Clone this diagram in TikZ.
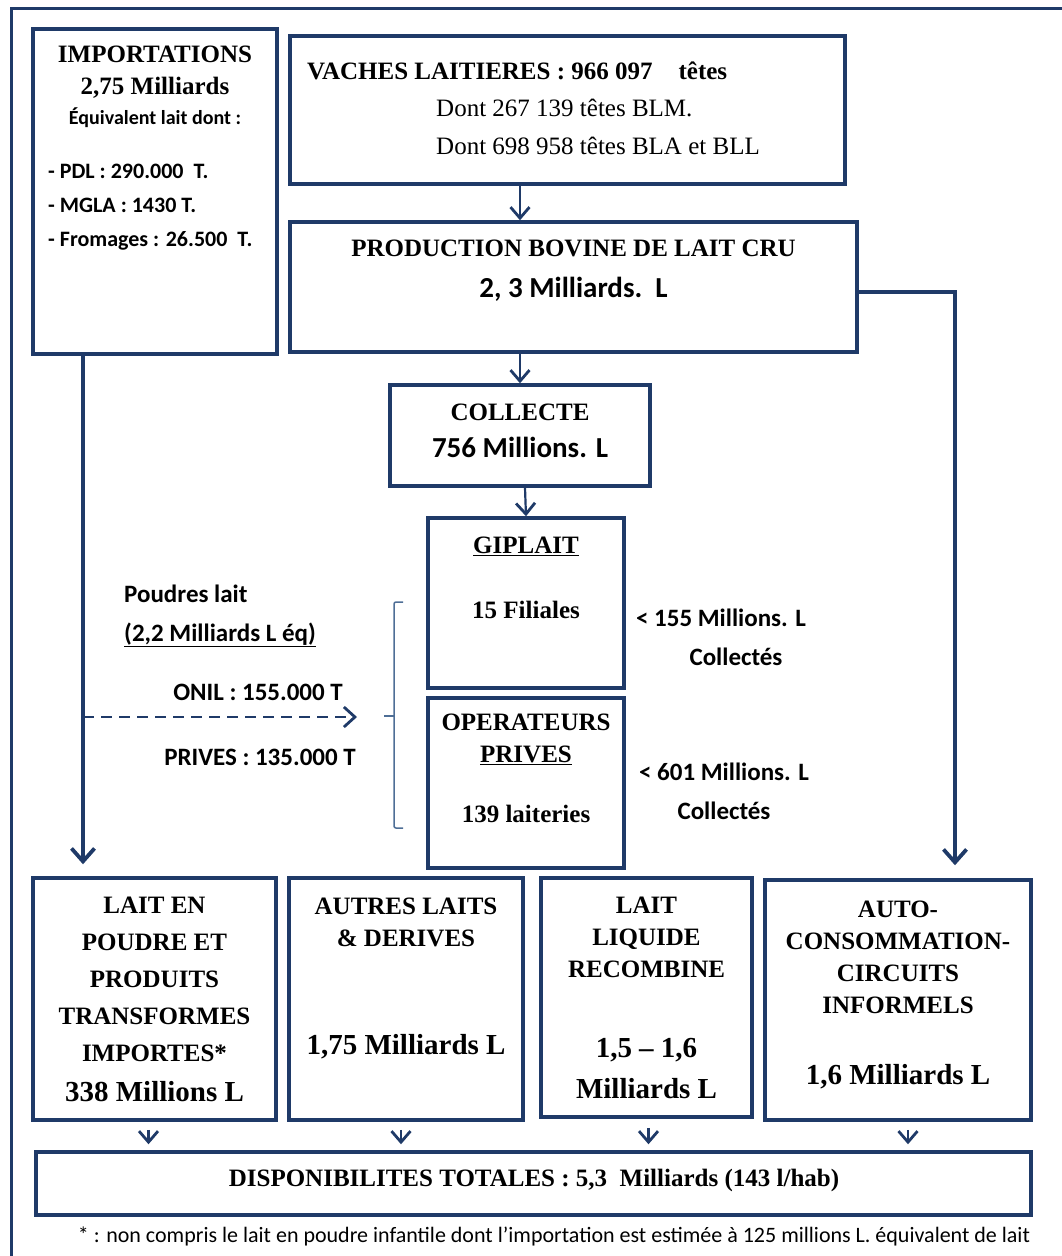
\documentclass[tikz,border=0pt]{standalone}
\usepackage{fontspec}
\setmainfont{Liberation Serif}
\newfontfamily\calib{Carlito}
\usetikzlibrary{arrows.meta,calc}
\definecolor{navy}{HTML}{1F3A68}
\definecolor{braceBlue}{HTML}{4E6E96}
\newcommand\fsz[2]{\fontsize{#1}{#2}\selectfont}

\begin{document}
\begin{tikzpicture}[
    x=1pt, y=-1pt,
    box/.style={draw=navy, line width=3.5pt, inner sep=0pt},
    head/.style={font=\fsz{25}{32}\bfseries, align=center, inner sep=0pt},
    big/.style={font=\fsz{29}{41}\bfseries, align=center, inner sep=0pt},
    cal/.style={font=\calib\fsz{25}{39}\bfseries, align=center, inner sep=0pt},
    line/.style={draw=navy, line width=2.2pt, -{Straight Barb[length=11pt, width=19pt, line width=2.8pt]}},
    longline/.style={draw=navy, line width=3.5pt, -{Straight Barb[length=13pt, width=23pt, line width=3.8pt]}},
    dashline/.style={draw=navy, line width=2.5pt, dash pattern=on 11pt off 7pt, -{Straight Barb[length=11pt, width=20pt, line width=2.8pt]}}
  ]
    \useasboundingbox (0,0) rectangle (1061,1256);
    % outer frame
    \draw[navy, line width=3pt] (11,8) rectangle (1080,1280);

    % Boxes top
    \node[box, minimum width=244pt, minimum height=325pt] (imp) at (155,191.5) {};
    \node[box, minimum width=555pt, minimum height=148pt] (vaches) at (567.5,110) {};
    \node[box, minimum width=567pt, minimum height=130pt] (prod) at (573.5,287) {};
    \node[box, minimum width=260pt, minimum height=101pt] (coll) at (520,435.5) {};
    \node[box, minimum width=196pt, minimum height=170pt] (gip) at (526,603) {};
    \node[box, minimum width=196pt, minimum height=170pt] (oper) at (526,783) {};

    % Boxes bottom
    \node[box, minimum width=243pt, minimum height=242pt] (poudre) at (154.5,999) {};
    \node[box, minimum width=234pt, minimum height=242pt] (autres) at (406,999) {};
    \node[box, minimum width=211pt, minimum height=239pt] (liquide) at (646.5,997.5) {};
    \node[box, minimum width=266pt, minimum height=240pt] (auto) at (898,1000) {};
    \node[box, minimum width=995pt, minimum height=63pt] (dispo) at (533.5,1183.5) {};

    % Texts top
    \node[head] (impTitle) at (155,72) {IMPORTATIONS\\2,75 Milliards};
    \node[cal, font=\calib\fsz{20}{24}\bfseries] (impSub) at (155,118) {Équivalent lait dont :};
    \node[cal, font=\calib\fsz{22}{34}\bfseries, align=left, anchor=west] (impList) at (48,207)
      {- PDL : 290.000\ \ T.\\- MGLA : 1430 T.\\- Fromages : 26.500\ \ T.};
    \node[head, anchor=west] (vachesTitle) at (307,71) {VACHES LAITIERES : 966 097\hspace{26pt}têtes};
    \node[head, font=\fsz{25}{38}, align=left, anchor=west] (vachesSub) at (436,127)
      {Dont 267 139 têtes BLM.\\Dont 698 958 têtes BLA et BLL};
    \node[head] (prodTitle) at (573.5,248) {PRODUCTION BOVINE DE LAIT CRU};
    \node[cal, font=\calib\fsz{29}{35}\bfseries] (prodVal) at (573.5,289) {2, 3 Milliards.\ \ L};
    \node[head] (collTitle) at (520,412) {COLLECTE};
    \node[cal, font=\calib\fsz{29}{35}\bfseries] (collVal) at (520,447) {756 Millions. L};
    \node[head] (gipTitle) at (526,546) {\underline{GIPLAIT}};
    \node[head] (gipVal) at (526,610) {15 Filiales};
    \node[head] (operTitle) at (526,739) {OPERATEURS\\\underline{PRIVES}};
    \node[head] (operVal) at (526,814) {139 laiteries};

    % Side labels
    \node[cal] (gipColl) at (721,637) {< 155 Millions. L\\\hspace*{30pt}Collectés};
    \node[cal] (operColl) at (724,791) {< 601 Millions. L\\Collectés};
    \node[cal, align=left, anchor=west] (poudres) at (124,616) {Poudres lait\\\underline{(2,2 Milliards L éq)}};
    \node[cal, anchor=east] (onil) at (343,692) {ONIL : 155.000 T};
    \node[cal, anchor=east] (prives) at (356,757) {PRIVES : 135.000 T};

    % Texts bottom
    \node[head, font=\fsz{25}{37}\bfseries] (poudreTitle) at (154.5,979.5)
      {LAIT EN\\POUDRE ET\\PRODUITS\\TRANSFORMES\\IMPORTES*};
    \node[big] (poudreVal) at (154.5,1092) {338 Millions L};
    \node[head] (autresTitle) at (406,922) {AUTRES LAITS\\\& DERIVES};
    \node[big] (autresVal) at (406,1047) {1,75 Milliards L};
    \node[head] (liquideTitle) at (646.5,937.5) {LAIT\\LIQUIDE\\RECOMBINE};
    \node[big] (liquideVal) at (646.5,1068.5) {1,5 – 1,6\\Milliards L};
    \node[head] (autoTitle) at (898,957) {AUTO-\\CONSOMMATION-\\CIRCUITS\\INFORMELS};
    \node[big] (autoVal) at (898,1077) {1,6 Milliards L};
    \node[head] (dispoText) at (534,1180) {DISPONIBILITES TOTALES : 5,3\ \ Milliards (143 l/hab)};
    \node[cal, font=\calib\fsz{22}{26}] (note) at (554,1236)
      {* : non compris le lait en poudre infantile dont l’importation est estimée à 125 millions L. équivalent de lait};

    % Edges main column
    \draw[line] (vaches.south -| coll.north) -- (prod.north -| coll.north);
    \draw[line] (prod.south -| coll.north) -- (coll.north);
    \draw[line] ([xshift=-1pt]coll.south -| gip.north) -- (gip.north);

    % Edges sides
    \draw[longline, shorten >=12pt] ([xshift=-72pt]imp.south) -- ([xshift=-71.5pt]poudre.north);
    \draw[longline, shorten >=13pt] ([yshift=-5pt]prod.east) -| ([xshift=57pt]auto.north);
    \coordinate (split) at (83,717);
    \coordinate (dashEnd) at (357,717);
    \draw[dashline] (split) -- (dashEnd);
    \draw[braceBlue, line width=1.5pt, rounded corners=2pt] (403,602) -- (394,602) -- (394,828) -- (403,828);
    \draw[braceBlue, line width=1.5pt] (394,716) -- (384,716);

    % Edges to total
    \draw[line, shorten <=8pt, shorten >=6pt] ([xshift=-6pt]poudre.south) -- ([xshift=-6pt]poudre.south |- dispo.north);
    \draw[line, shorten <=8pt, shorten >=6pt] ([xshift=-5pt]autres.south) -- ([xshift=-5pt]autres.south |- dispo.north);
    \draw[line, shorten <=9pt, shorten >=6pt] ([xshift=2pt]liquide.south) -- ([xshift=2pt]liquide.south |- dispo.north);
    \draw[line, shorten <=8pt, shorten >=6pt] ([xshift=10pt]auto.south) -- ([xshift=10pt]auto.south |- dispo.north);
  \end{tikzpicture}
\end{document}
